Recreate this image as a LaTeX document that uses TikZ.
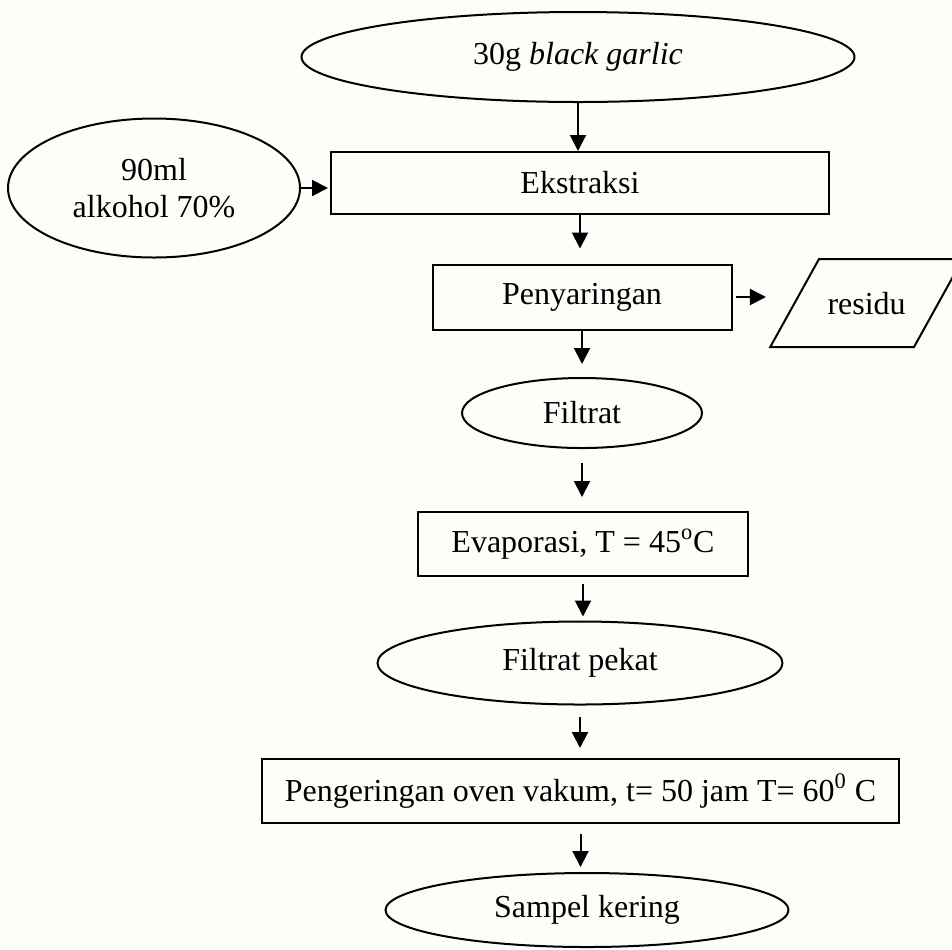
\documentclass[tikz,border=0pt]{standalone}
\usepackage{fontspec}
\setmainfont{Liberation Serif}
\usetikzlibrary{shapes.geometric,arrows.meta}

\begin{document}
\begin{tikzpicture}[x=0.5pt,y=-0.5pt,
        oval/.style={draw, ellipse, line width=1pt, inner sep=0pt, font=\fontsize{16}{18.5}\selectfont},
        kotak/.style={draw, rectangle, line width=1pt, inner sep=0pt, font=\fontsize{16}{18.5}\selectfont},
        miring/.style={draw, trapezium, trapezium left angle=61, trapezium right angle=119, line width=1pt, text width=39pt, align=center, text height=11pt, text depth=0pt, inner xsep=4.25pt, inner ysep=16.5pt, font=\fontsize{16}{18.5}\selectfont},
        panah/.style={-{Triangle[width=8pt,length=8pt]}, line width=1pt}]
        \useasboundingbox[fill={rgb,255:red,253;green,253;blue,249}] (0,0) rectangle (952,949);
        \node[oval, minimum width=276.5pt, minimum height=45pt] (garlic) at (578,57) {30g \textit{black garlic}};
        \node[oval, minimum width=146pt, minimum height=69.5pt, align=center] (alkohol) at (154,188) {90ml\\alkohol 70\%};
        \node[kotak, minimum width=249pt, minimum height=31pt] (ekstraksi) at (580,183) {Ekstraksi};
        \node[kotak, minimum width=149.5pt, minimum height=32.5pt] (penyaringan) at (582,297) {Penyaringan};
        \node[miring] (residu) at (866.5,303) {residu};
        \node[oval, minimum width=120pt, minimum height=35pt] (filtrat) at (582,413) {Filtrat};
        \node[kotak, minimum width=165pt, minimum height=32pt] (evaporasi) at (583,544) {Evaporasi, T = 45\textsuperscript{o}C};
        \node[oval, minimum width=202.5pt, minimum height=41.5pt] (pekat) at (580,663) {Filtrat pekat};
        \node[kotak, minimum width=318.5pt, minimum height=32pt] (pengeringan) at (580.5,791) {Pengeringan oven vakum, t= 50 jam T= 60\textsuperscript{0} C};
        \node[oval, minimum width=201.5pt, minimum height=37pt] (sampel) at (587,910) {Sampel kering};

        \draw[panah] (garlic.south) -- (garlic.south |- ekstraksi.north);
        \draw[panah, shorten >=1pt] (alkohol.east) -- (ekstraksi.west |- alkohol.east);
        \draw[panah, shorten >=7.5pt] (ekstraksi.south) -- (ekstraksi.south |- penyaringan.north);
        \draw[panah, shorten <=1.5pt, shorten >=13.75pt] (penyaringan.east) -- (penyaringan.east -| residu.west);
        \draw[panah, shorten >=6.5pt] (penyaringan.south) -- (penyaringan.south |- filtrat.north);
        \draw[panah, shorten <=7pt, shorten >=7pt] (filtrat.south) -- (filtrat.south |- evaporasi.north);
        \draw[panah, shorten <=3.5pt, shorten >=2pt] (evaporasi.south) -- (evaporasi.south |- pekat.north);
        \draw[panah, shorten <=5.5pt, shorten >=5pt] (pekat.south) -- (pekat.south |- pengeringan.north);
        \draw[panah, shorten <=5pt, shorten >=2.5pt] (pengeringan.south) -- (pengeringan.south |- sampel.north);
    \end{tikzpicture}
\end{document}
